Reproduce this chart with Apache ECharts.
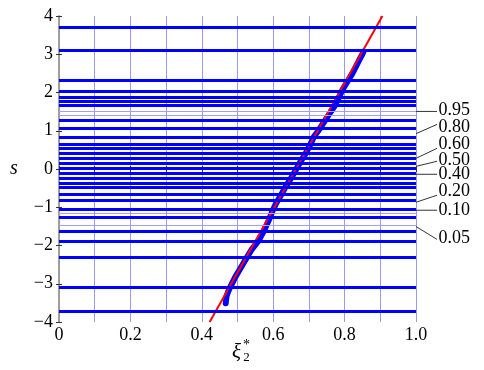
<!DOCTYPE html>
<html><head><meta charset="utf-8">
<script src="https://cdn.jsdelivr.net/npm/echarts@6/dist/echarts.min.js"></script>
<style>html,body{margin:0;padding:0;background:#fff}#c{width:484px;height:370px}</style>
</head><body><div id="c"></div>
<script>
// thick probability grid lines (s values)
const thickLines = [3.71,3.097,2.315,2.045,1.884,1.758,1.662,1.271,1.062,0.827,0.663,0.532,0.41,0.271,0.136,0.005,-0.112,-0.23,-0.36,-0.49,-0.647,-0.835,-1.038,-1.268,-1.644,-1.88,-2.32,-3.094,-3.705];
// thin light lines
const thinLines = [1.505,1.409,-1.164,-1.47];
// sample points (x = xi, s = quantile)
const dataX = [0.467,0.469,0.474,0.480,0.494,0.508,0.522,0.540,0.560,0.575,0.588,0.598,0.608,0.622,0.635,0.650,0.663,0.677,0.691,0.703,0.714,0.728,0.740,0.756,0.771,0.783,0.794,0.808,0.822,0.832,0.841,0.848,0.853];
const dataS = [-3.51,-3.34,-3.2,-3.08,-2.82,-2.6,-2.38,-2.1,-1.86,-1.6,-1.33,-1.1,-0.90,-0.68,-0.46,-0.24,-0.03,0.2,0.41,0.62,0.845,1.02,1.195,1.42,1.63,1.85,2.07,2.29,2.50,2.68,2.85,2.97,3.07];
// fitted reference line endpoints
const fitX = [0.422,0.906];
const fitS = [-4,4];
// right-side probability labels
const probLabels = ['0.95','0.80','0.60','0.50','0.40','0.20','0.10','0.05'];
const probAnchorS = [1.505,0.924,0.279,0.07,-0.138,-0.869,-1.078,-1.504];
const probEndS = [1.505,1.166,0.54,0.201,-0.138,-0.686,-1.078,-1.84];
const probTextS = [1.545,1.08,0.657,0.227,-0.138,-0.595,-1.078,-1.821];
const xTicks = [0,0.2,0.4,0.6,0.8,1.0];

const FONT = "'Liberation Serif','Times New Roman',serif";
const chart = echarts.init(document.getElementById('c'), null, {renderer:'canvas'});
const axisLineStyle = {color:'#9a9a9a', width:1.5};
const tickStyle = {inside:true, length:3, lineStyle:{color:'#333', width:1}};
function fmtX(v){
  const r = Math.round(v*10)/10;
  if (!xTicks.some(t => Math.abs(t-r) < 1e-9)) return '';
  if (r === 0) return '0';
  return r.toFixed(1);
}
const markData = thickLines.map(s => ({yAxis:s}));
const thinData = thinLines.map(s => ({yAxis:s}));
chart.setOption({
  animation:false,
  grid:{left:59, right:68, top:16, bottom:48, containLabel:false},
  xAxis:[
    {type:'value', min:0, max:1, interval:0.1, position:'bottom',
     axisLine:{lineStyle:axisLineStyle}, axisTick:tickStyle,
     axisLabel:{fontFamily:FONT, fontSize:18, color:'#000', margin:4, formatter:fmtX, showMinLabel:true, showMaxLabel:true},
     splitLine:{show:true, lineStyle:{color:'#9a9af2', width:1}}},
    {type:'value', min:0, max:1, interval:0.1, position:'top',
     axisLine:{lineStyle:axisLineStyle}, axisTick:tickStyle, axisLabel:{show:false}, splitLine:{show:false}}
  ],
  yAxis:[
    {type:'value', min:-4, max:4, interval:1, position:'left',
     axisLine:{lineStyle:axisLineStyle}, axisTick:tickStyle,
     axisLabel:{fontFamily:FONT, fontSize:18, color:'#000', margin:6, formatter:v => v<0 ? '\u2212'+(-v) : String(v)},
     splitLine:{show:false}},
    {type:'value', min:-4, max:4, interval:1, position:'right',
     axisLine:{lineStyle:axisLineStyle}, axisTick:tickStyle, axisLabel:{show:false}, splitLine:{show:false}}
  ],
  series:[
    {type:'line', data:[], silent:true,
     markLine:{silent:true, symbol:['none','none'], label:{show:false},
       lineStyle:{color:'#a0a0f5', width:1, type:'solid'}, data:thinData}},
    {type:'line', data:[], silent:true,
     markLine:{silent:true, symbol:['none','none'], label:{show:false},
       lineStyle:{color:'#0000ff', width:3, type:'solid'}, data:markData}},
    {type:'line', data:dataX.map((x,i)=>[x,dataS[i]]), showSymbol:false, silent:true,
     lineStyle:{color:'#0000ff', width:6, join:'round', cap:'round'}, z:3},
    {type:'line', data:fitX.map((x,i)=>[x,fitS[i]]), showSymbol:false, silent:true, clip:true,
     lineStyle:{color:'#ff0000', width:2}, z:4}
  ]
});
// annotations positioned through the chart's scales
const g = [];
probLabels.forEach((t,i) => {
  const a = chart.convertToPixel({gridIndex:0},[1, probAnchorS[i]]);
  const e = chart.convertToPixel({gridIndex:0},[1, probEndS[i]]);
  const c = chart.convertToPixel({gridIndex:0},[1, probTextS[i]]);
  g.push({type:'line', shape:{x1:a[0], y1:a[1], x2:a[0]+21, y2:e[1]}, style:{stroke:'#333', lineWidth:1}});
  g.push({type:'text', x:a[0]+22.5, y:c[1], style:{text:t, font:'18px '+FONT, fill:'#000', textVerticalAlign:'middle', verticalAlign:'middle'}});
});
const y0 = chart.convertToPixel({gridIndex:0},[0,0]);
g.push({type:'text', x:14, y:y0[1], style:{text:'s', font:'italic 20px '+FONT, fill:'#000', align:'center', textAlign:'center', verticalAlign:'middle', textVerticalAlign:'middle'}});
const xm = chart.convertToPixel({gridIndex:0},[0.5,-4]);
g.push({type:'text', x:xm[0]-1, y:352, style:{text:'\u03BE', font:'italic 21px '+FONT, fill:'#000', align:'center', textAlign:'center', verticalAlign:'middle', textVerticalAlign:'middle'}});
g.push({type:'text', x:xm[0]+9, y:345, style:{text:'*', font:'14px '+FONT, fill:'#000', align:'center', textAlign:'center', verticalAlign:'middle', textVerticalAlign:'middle'}});
g.push({type:'text', x:xm[0]+9, y:358, style:{text:'2', font:'13px '+FONT, fill:'#000', align:'center', textAlign:'center', verticalAlign:'middle', textVerticalAlign:'middle'}});
chart.setOption({graphic:g});
</script>
</body></html>
